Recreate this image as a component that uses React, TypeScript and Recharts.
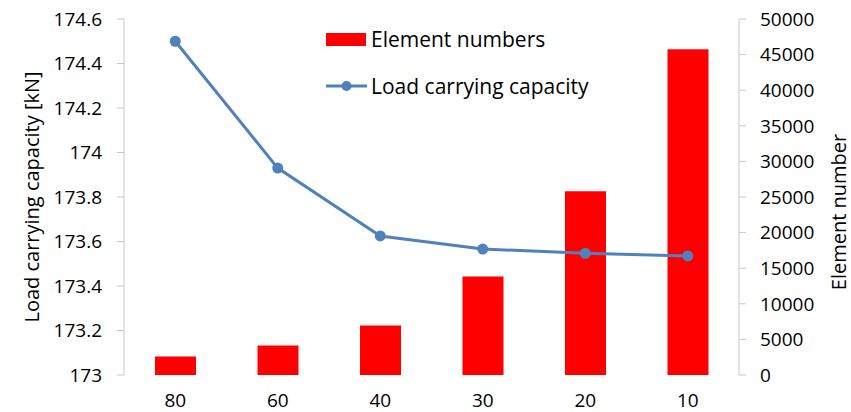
import React from "react";
import {
  ComposedChart,
  Bar,
  Line,
  XAxis,
  YAxis,
  Legend,
} from "recharts";

// mesh size categories (x axis)
const meshSizes = ["80", "60", "40", "30", "20", "10"];
// number of elements for each mesh size
const elementNumbers = [2600, 4150, 6960, 13850, 25800, 45750];
// load carrying capacity [kN]
const loadCapacity = [174.5, 173.93, 173.625, 173.566, 173.547, 173.535];

const leftTicks = [173, 173.2, 173.4, 173.6, 173.8, 174, 174.2, 174.4, 174.6];
const rightTicks = [0, 5000, 10000, 15000, 20000, 25000, 30000, 35000, 40000, 45000, 50000];

const FONT = "'Open Sans', sans-serif";
const AXIS_GREY = "#C8C8C8";
const BAR_RED = "#FF0000";
const LINE_BLUE = "#4F81BD";

const data = meshSizes.map((size, i) => ({
  size,
  elements: elementNumbers[i],
  load: loadCapacity[i],
}));

const tickStyle = { fill: "#000", fontSize: 19, fontFamily: FONT };

const LeftTitle = (props: any) => {
  const vb = props.viewBox;
  const x = vb.x + 31;
  const y = vb.y + vb.height / 2;
  return (
    <text
      x={x}
      y={y}
      transform={`rotate(-90, ${x}, ${y})`}
      textAnchor="middle"
      dominantBaseline="central"
      fontSize={20}
      fontFamily={FONT}
      fill="#000"
    >
      Load carrying capacity [kN]
    </text>
  );
};

const RightTitle = (props: any) => {
  const vb = props.viewBox;
  const x = vb.x + 99;
  const y = vb.y + vb.height / 2 + 15;
  return (
    <text
      x={x}
      y={y}
      transform={`rotate(-90, ${x}, ${y})`}
      textAnchor="middle"
      dominantBaseline="central"
      fontSize={20}
      fontFamily={FONT}
      fill="#000"
    >
      Element number
    </text>
  );
};

const LegendBox = () => (
  <div style={{ fontFamily: FONT, fontSize: 21, color: "#000", lineHeight: "26px", textAlign: "left" }}>
    <div style={{ display: "flex", alignItems: "center", height: 26 }}>
      <span style={{ display: "inline-block", width: 40, height: 13, background: BAR_RED, marginRight: 5 }} />
      Element numbers
    </div>
    <div style={{ display: "flex", alignItems: "center", height: 26, marginTop: 21 }}>
      <svg width={41} height={12} style={{ marginRight: 4 }}>
        <line x1={0} y1={6} x2={41} y2={6} stroke={LINE_BLUE} strokeWidth={3} />
        <circle cx={20.5} cy={6} r={5} fill={LINE_BLUE} />
      </svg>
      Load carrying capacity
    </div>
  </div>
);

export default function App() {
  return (
    <div style={{ position: "absolute", left: 0, top: 0, background: "#fff" }}>
      <ComposedChart
        width={851}
        height={412}
        data={data}
        margin={{ top: 19, right: 0, bottom: 0, left: 0 }}
        style={{ fontFamily: FONT }}
      >
        <XAxis
          dataKey="size"
          height={37}
          axisLine={false}
          tickLine={false}
          tickSize={0}
          tickMargin={19}
          tick={tickStyle}
        />
        <YAxis
          yAxisId="left"
          orientation="left"
          width={124}
          domain={[173, 174.6]}
          ticks={leftTicks}
          allowDataOverflow
          axisLine={{ stroke: AXIS_GREY }}
          tickLine={{ stroke: AXIS_GREY }}
          tickSize={7}
          tickMargin={15}
          tick={tickStyle}
          tickFormatter={(v: number) => String(Number(v.toFixed(1)))}
          label={<LeftTitle />}
        />
        <YAxis
          yAxisId="right"
          orientation="right"
          width={112}
          domain={[0, 50000]}
          ticks={rightTicks}
          axisLine={{ stroke: AXIS_GREY }}
          tickLine={{ stroke: AXIS_GREY }}
          tickSize={7}
          tickMargin={14}
          tick={{ ...tickStyle, textAnchor: "start" }}
          label={<RightTitle />}
        />
        <Legend
          content={<LegendBox />}
          layout="horizontal"
          verticalAlign="middle"
          align="center"
          wrapperStyle={{ top: 26, left: 326, width: 320 }}
        />
        <Bar
          yAxisId="right"
          dataKey="elements"
          name="Element numbers"
          fill={BAR_RED}
          barSize={41}
          isAnimationActive={false}
        />
        <Line
          yAxisId="left"
          dataKey="load"
          name="Load carrying capacity"
          type="linear"
          stroke={LINE_BLUE}
          strokeWidth={3}
          dot={{ r: 5.5, fill: LINE_BLUE, stroke: LINE_BLUE, strokeWidth: 0 }}
          activeDot={false}
          isAnimationActive={false}
        />
      </ComposedChart>
    </div>
  );
}
